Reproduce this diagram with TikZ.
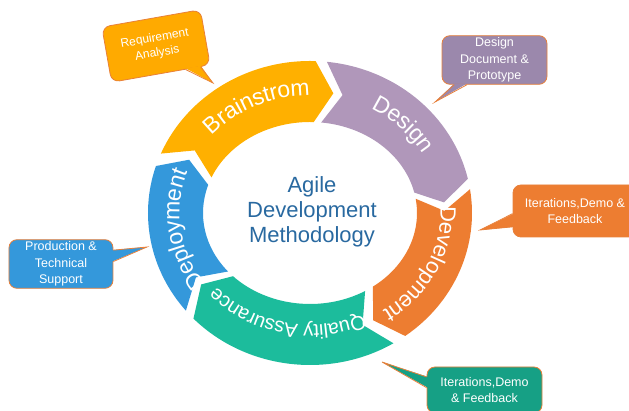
\documentclass[tikz,border=0pt]{standalone}
\usepackage{fontspec}
\setmainfont{Liberation Sans}
\usetikzlibrary{calc,decorations.text}

\definecolor{brainC}{RGB}{255,176,0}
\definecolor{designC}{RGB}{176,151,186}
\definecolor{devC}{RGB}{237,125,49}
\definecolor{qaC}{RGB}{28,188,156}
\definecolor{deployC}{RGB}{52,152,219}
\definecolor{reqC}{RGB}{255,170,0}
\definecolor{docC}{RGB}{155,136,172}
\definecolor{iterC}{RGB}{22,160,133}
\definecolor{edgeC}{RGB}{232,128,58}
\definecolor{titleC}{RGB}{41,105,160}

\newcommand{\ringfont}{\fontsize{23}{23}\selectfont}
\newcommand{\devfont}{\fontsize{22}{22}\selectfont}
\newcommand{\qafont}{\fontsize{20}{20}\selectfont}

\newcommand{\ringpart}[3]{%
	\fill[#3] (#1:162 and 152) arc[start angle=#1, end angle=#2, x radius=162, y radius=152]
		-- ({#2-8}:134.5 and 121.5) -- (#2:107 and 91)
		arc[start angle=#2, end angle=#1, x radius=107, y radius=91]
		-- ({#1-8}:134.5 and 121.5) -- cycle;}

\newcommand{\callouttail}[5]{%
	\fill[#4] ($#1+#5$) -- #3 -- ($#2+#5$) -- cycle;
	\draw[tailedge] #1 -- #3 -- #2;}

\tikzset{
	callout/.style={draw=edgeC, line width=0.8pt, rounded corners=8pt, text=white, align=center, inner sep=2pt, font=\fontsize{12.5}{16.5}\selectfont},
	tailedge/.style={draw=edgeC, line width=0.8pt},
	ringlabel/.style={decorate, decoration={text along path, text align=center, text color=white, raise=-4pt}}
}

\begin{document}
\begin{tikzpicture}[x=1pt, y=1pt]
		\useasboundingbox (-310,-198) rectangle (319,213);
		\ringpart{157}{88}{brainC}
		\ringpart{84}{13}{designC}
		\ringpart{9}{-54}{devC}
		\ringpart{-59}{-136}{qaC}
		\ringpart{220}{162}{deployC}
		\path[ringlabel, decoration={text={|\ringfont|Brainstrom}}] (160:134.5 and 121.5) arc[start angle=160, end angle=70, x radius=134.5, y radius=121.5];
		\path[ringlabel, decoration={text={|\ringfont|Design}}] (90:134.5 and 121.5) arc[start angle=90, end angle=0, x radius=134.5, y radius=121.5];
		\path[ringlabel, decoration={text={|\devfont|Development}}] (19:134.5 and 121.5) arc[start angle=19, end angle=-71, x radius=134.5, y radius=121.5];
		\path[ringlabel, decoration={text={|\qafont|Quality Assurance}}] (-52:129 and 116) arc[start angle=-52, end angle=-152, x radius=129, y radius=116];
		\path[ringlabel, decoration={text={|\ringfont|Deployment}}] (233:134.5 and 121.5) arc[start angle=233, end angle=143, x radius=134.5, y radius=121.5];
		\node[font=\fontsize{22}{25}\selectfont, text=titleC, align=center] (title) at (2,1) {Agile\\Development\\Methodology};

		\node[callout, fill=reqC, rotate=10, minimum width=100pt, minimum height=56pt, font=\fontsize{12}{15}\selectfont] (req) at (-154,167) {Requirement\\Analysis};
		\node[callout, fill=docC, minimum width=105pt, minimum height=48pt] (doc) at (184.5,153) {Design\\Document \&\\Prototype};
		\node[callout, fill=devC, minimum width=124pt, minimum height=52pt] (iterdev) at (265,2) {Iterations,Demo \&\\Feedback};
		\node[callout, fill=deployC, minimum width=104pt, minimum height=48pt] (support) at (-249,-51) {Production \&\\Technical\\Support};
		\node[callout, fill=iterC, minimum width=115pt, minimum height=46pt] (iterqa) at (174.5,-177) {Iterations,Demo\\\& Feedback};

		\coordinate (reqtip) at (-97,130);
		\coordinate (reqa) at ($(req.south)!0.5!(req.south east)$);
		\coordinate (reqb) at ($(req.south)!0.8!(req.south east)$);
		\callouttail{(reqa)}{(reqb)}{(reqtip)}{reqC}{(0.2,1.2)}
		\coordinate (doctip) at (125,111);
		\coordinate (doca) at ($(doc.south west)!0.12!(doc.south east)$);
		\coordinate (docb) at ($(doc.south west)!0.24!(doc.south east)$);
		\callouttail{(doca)}{(docb)}{(doctip)}{docC}{(0,1.2)}
		\coordinate (iterdevtip) at (170,-17);
		\coordinate (iterdeva) at ($(iterdev.north west)!0.55!(iterdev.south west)$);
		\coordinate (iterdevb) at ($(iterdev.north west)!0.8!(iterdev.south west)$);
		\callouttail{(iterdeva)}{(iterdevb)}{(iterdevtip)}{devC}{(1.2,0)}
		\coordinate (supporttip) at (-163,-34);
		\coordinate (supporta) at ($(support.north east)!0.22!(support.south east)$);
		\coordinate (supportb) at ($(support.north east)!0.45!(support.south east)$);
		\callouttail{(supporta)}{(supportb)}{(supporttip)}{deployC}{(-1.2,0)}
		\coordinate (iterqatip) at (72,-149);
		\coordinate (iterqaa) at ($(iterqa.north west)!0.22!(iterqa.south west)$);
		\coordinate (iterqab) at ($(iterqa.north west)!0.45!(iterqa.south west)$);
		\callouttail{(iterqaa)}{(iterqab)}{(iterqatip)}{iterC}{(1.2,0)}
\end{tikzpicture}
\end{document}
